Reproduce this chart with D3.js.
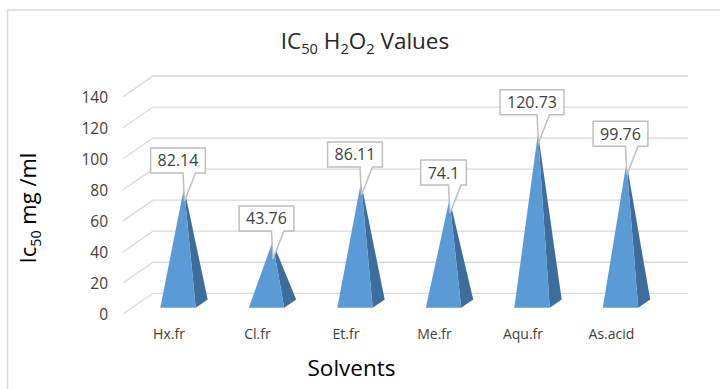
<!DOCTYPE html>
<html>
<head>
<meta charset="utf-8">
<script src="https://cdn.jsdelivr.net/npm/d3@7"></script>
<style>
  html, body { margin: 0; padding: 0; background: #fff; }
  svg { display: block; font-family: "Open Sans", "Liberation Sans", sans-serif; }
</style>
</head>
<body>
<svg id="chart" width="720" height="389"></svg>
<script>
// IC50 values (mg/ml) per solvent fraction
const categories = ["Hx.fr", "Cl.fr", "Et.fr", "Me.fr", "Aqu.fr", "As.acid"];
const values = [82.14, 43.76, 86.11, 74.1, 120.73, 99.76];
const valueTicks = [0, 20, 40, 60, 80, 100, 120, 140];

const svg = d3.select("#chart");

// 3D frame: the floor recedes by this offset from front to back wall
const depth = { dx: 30, dy: -20.7 };
const wallLeft = 123, wallRight = 688;

// front-wall value scale (gridlines & tick labels)
const y = d3.scaleLinear().domain([0, 140]).range([314, 96.7]);
// category bands along the front edge of the floor
const x = d3.scaleBand().domain(categories).range([124.75, 655.75]);
// apex height of each pyramid (measured at mid-depth, foreshortened)
const yApex = d3.scaleLinear().domain([0, 140]).range([303.65, 106]);
// anchor of each callout's pointer
const yTip = d3.scaleLinear().domain([0, 140]).range([325, 113.6]);

const at = (px, py, d) => [px + depth.dx * d, py + depth.dy * d];

// outer chart border
svg.append("rect")
  .attr("x", 7.5).attr("y", 10).attr("width", 730).attr("height", 400)
  .attr("fill", "none").attr("stroke", "#d9d9d9").attr("stroke-width", 1.5);

// gridlines: short slanted segment on the side wall, then across the back wall
const grid = svg.append("g").attr("fill", "none")
  .attr("stroke", "#d9d9d9").attr("stroke-width", 1.3);
valueTicks.forEach(t => {
  const [bx, by] = at(wallLeft, y(t), 1);
  grid.append("path")
    .attr("d", `M${wallLeft},${y(t)}L${bx},${by}H${wallRight}`);
});

// value tick labels
svg.append("g").selectAll("text").data(valueTicks).join("text")
  .attr("x", 108).attr("y", d => y(d))
  .attr("text-anchor", "end").attr("dominant-baseline", "central")
  .attr("font-size", 15.5).attr("fill", "#404040")
  .text(d => d);

// pyramids
const baseFront = 0.3, baseBack = 0.7;
const pyr = svg.append("g");
categories.forEach((c, i) => {
  const cx = x(c) + x.bandwidth() / 2;
  const half = x.step() * 0.2;
  const floorY = y(0);
  const fl = at(cx - half, floorY, baseFront);
  const fr = at(cx + half, floorY, baseFront);
  const br = at(cx + half, floorY, baseBack);
  const apex = [at(cx, floorY, 0.5)[0], yApex(values[i])];
  pyr.append("path")
    .attr("d", `M${fr}L${br}L${apex}Z`)
    .attr("fill", "#3d6e9b");
  pyr.append("path")
    .attr("d", `M${fl}L${fr}L${apex}Z`)
    .attr("fill", "#5b9bd5");
});

// value callouts
const labels = svg.append("g");
categories.forEach((c, i) => {
  const cx = x(c) + x.bandwidth() / 2 + depth.dx * baseFront;
  const tipX = cx + 6.5, tipY = yTip(values[i]);
  const bottom = tipY - 28, h = 25;
  const g = labels.append("g");
  const path = g.append("path");
  const txt = g.append("text")
    .attr("x", cx).attr("y", bottom - h / 2)
    .attr("text-anchor", "middle").attr("dominant-baseline", "central")
    .attr("font-size", 16).attr("fill", "#404040")
    .text(values[i]);
  const w = txt.node().getComputedTextLength() + 14;
  const l = cx - w / 2, r = cx + w / 2;
  path.attr("d", `M${l},${bottom - h}H${r}V${bottom}H${tipX + 11}L${tipX},${tipY}L${tipX - 1.5},${bottom}H${l}Z`)
    .attr("fill", "#fff").attr("stroke", "#bfbfbf").attr("stroke-width", 1.5);
});

// category labels
svg.append("g").selectAll("text").data(categories).join("text")
  .attr("x", d => x(d) + x.bandwidth() / 2).attr("y", 339)
  .attr("text-anchor", "middle")
  .attr("font-size", 14).attr("fill", "#404040")
  .text(d => d);

// title with subscripts
const title = svg.append("text")
  .attr("x", 365).attr("y", 49).attr("text-anchor", "middle")
  .attr("font-size", 22.5).attr("fill", "#262626");
title.append("tspan").text("IC");
title.append("tspan").attr("font-size", "65%").attr("dy", 5).text("50");
title.append("tspan").attr("dy", -5).text(" H");
title.append("tspan").attr("font-size", "65%").attr("dy", 5).text("2");
title.append("tspan").attr("dy", -5).text("O");
title.append("tspan").attr("font-size", "65%").attr("dy", 5).text("2");
title.append("tspan").attr("dy", -5).text(" Values");

// axis titles
svg.append("text")
  .attr("x", 351.5).attr("y", 376).attr("text-anchor", "middle")
  .attr("font-size", 22.5).attr("fill", "#000")
  .text("Solvents");

const yTitle = svg.append("text")
  .attr("transform", "translate(36,208) rotate(-90)")
  .attr("text-anchor", "middle")
  .attr("font-size", 22).attr("fill", "#000");
yTitle.append("tspan").text("Ic");
yTitle.append("tspan").attr("font-size", "65%").attr("dy", 5).text("50");
yTitle.append("tspan").attr("dy", -5).text(" mg /ml");
</script>
</body>
</html>
